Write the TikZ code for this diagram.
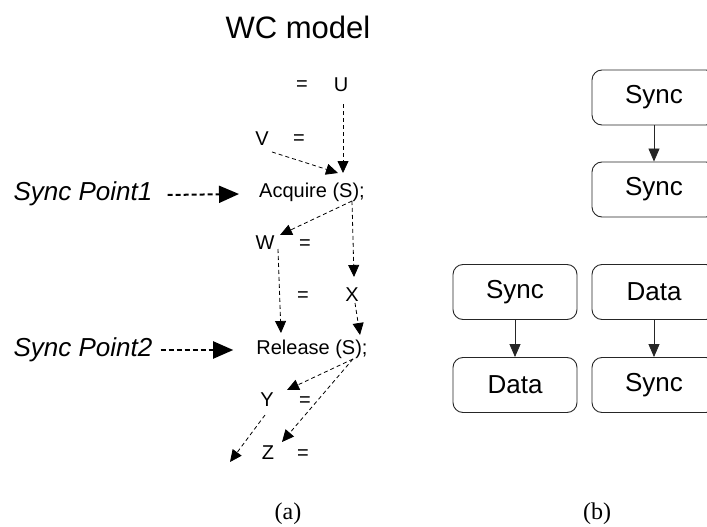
\documentclass[tikz,border=0pt]{standalone}
\usepackage{fontspec}
\setmainfont{Liberation Serif}
\setsansfont{Liberation Sans}
\usetikzlibrary{arrows.meta,calc}

\tikzset{
  lbl/.style={inner sep=0pt, font=\sffamily\fontsize{20}{24}\selectfont},
  titlestyle/.style={inner sep=0pt, font=\sffamily\fontsize{31}{36}\selectfont},
  sp/.style={inner sep=0pt, font=\sffamily\itshape\fontsize{26}{30}\selectfont},
  subcap/.style={inner sep=0pt, font=\rmfamily\fontsize{24}{28}\selectfont},
  blk/.style={draw=black!85, line width=0.9pt, rounded corners=10pt,
    minimum width=124pt, minimum height=55pt, inner sep=0pt,
    font=\sffamily\fontsize{26}{30}\selectfont},
  dep/.style={dash pattern=on 4pt off 3pt, line width=0.8pt,
    -{Triangle[length=12pt,width=11pt]}},
  spar/.style={dash pattern=on 5pt off 3pt, line width=2pt,
    -{Triangle[length=20pt,width=17pt]}},
  flow/.style={line width=0.8pt, draw=black!85,
    -{Triangle[length=13pt,width=11pt]}}
}

\begin{document}
\begin{tikzpicture}[x=1pt,y=-1pt]
\path[clip] (0,0) rectangle (707,527);

% (a) program order under WC
\node[titlestyle] (ttl) at (298,27) {WC model};

\node[lbl] (eqU) at (302,86) {=};
\node[lbl] (U) at (341,85) {U};
\node[lbl] (V) at (262,139) {V};
\node[lbl] (eqV) at (299,140) {=};
\node[lbl] (acq) at (312,192) {Acquire (S);};
\node[lbl] (W) at (265,243) {W};
\node[lbl] (eqW) at (305,245) {=};
\node[lbl] (eqX) at (303,297) {=};
\node[lbl] (X) at (352,295) {X};
\node[lbl] (rel) at (312,349) {Release (S);};
\node[lbl] (Y) at (267,400) {Y};
\node[lbl] (eqY) at (305,402) {=};
\node[lbl] (Z) at (268,453) {Z};
\node[lbl] (eqZ) at (303,455) {=};
\coordinate (out) at (230,462);

\node[sp] (sp1) at (83,194) {Sync Point1};
\node[sp] (sp2) at (83,350) {Sync Point2};

\draw[spar] (sp1.east) ++(15,1) -- ($(acq.west)+(-20,2)$);
\draw[spar] (sp2.east) ++(8,0) -- ($(rel.west)+(-23,1)$);

\draw[dep] ($(U.center)+(2,19)$) -- ($(acq.center)+(31,-19)$);
\draw[dep] ($(V.center)+(10,13)$) -- ($(acq.center)+(26,-19)$);
\draw[dep] ($(acq.center)+(40,9)$) -- ($(W.center)+(15,-8)$);
\draw[dep] ($(acq.center)+(40,9)$) -- ($(X.center)+(2,-18)$);
\draw[dep] ($(W.center)+(13,6)$) -- ($(rel.center)+(-31,-16)$);
\draw[dep] ($(X.center)+(3,8)$) -- ($(rel.center)+(48,-14)$);
\draw[dep] ($(rel.center)+(41,10)$) -- ($(Y.center)+(20,-10)$);
\draw[dep] ($(rel.center)+(41,10)$) -- ($(Z.center)+(14,-11)$);
\draw[dep] ($(Y.center)+(-2,15)$) -- (out);

\node[subcap] (la) at (288,514) {(a)};

% (b) ordering pairs
\node[blk] (s1) at (654,97.5) {Sync};
\node[blk] (s2) at (654,189.5) {Sync};
\node[blk] (p1) at (515,292) {Sync};
\node[blk] (p2) at (515,385) {Data};
\node[blk] (q1) at (654,292) {Data};
\node[blk] (q2) at (654,385) {Sync};
\draw[flow] (s1) -- (s2);
\draw[flow] (p1) -- (p2);
\draw[flow] (q1) -- (q2);

\node[subcap] (lb) at (597,514) {(b)};
\end{tikzpicture}
\end{document}
